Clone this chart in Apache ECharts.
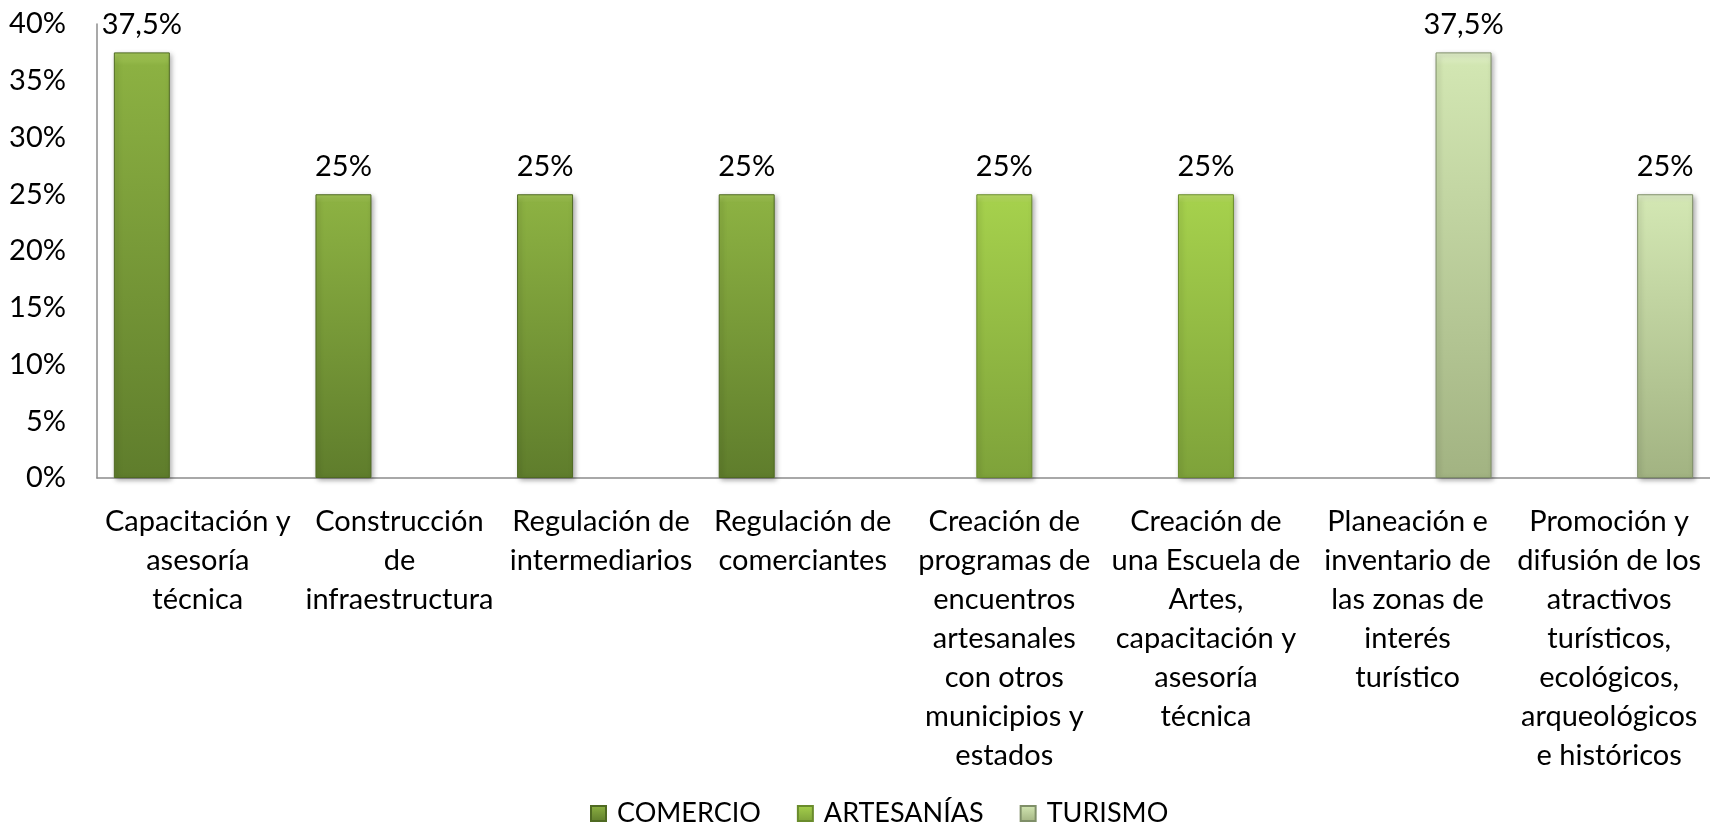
<!DOCTYPE html>
<html>
<head>
<meta charset="utf-8">
<script src="https://cdn.jsdelivr.net/npm/echarts@6/dist/echarts.min.js"></script>
<style>
    html, body { margin: 0; padding: 0; background: #fff; }
    #chart { width: 1710px; height: 830px; }
</style>
</head>
<body>
<div id="chart"></div>
<script>
let categories = [
    'Capacitación y\nasesoría\ntécnica',
    'Construcción\nde\ninfraestructura',
    'Regulación de\nintermediarios',
    'Regulación de\ncomerciantes',
    'Creación de\nprogramas de\nencuentros\nartesanales\ncon otros\nmunicipios y\nestados',
    'Creación de\nuna Escuela de\nArtes,\ncapacitación y\nasesoría\ntécnica',
    'Planeación e\ninventario de\nlas zonas de\ninterés\nturístico',
    'Promoción y\ndifusión de los\natractivos\nturísticos,\necológicos,\narqueológicos\ne históricos'
];
let seriesNames = ['COMERCIO', 'ARTESANÍAS', 'TURISMO'];
let comercio = [37.5, 25, 25, 25, null, null, null, null];
let artesanias = [null, null, null, null, 25, 25, null, null];
let turismo = [null, null, null, null, null, null, 37.5, 25];
let yTicks = { min: 0, max: 40, interval: 5 };

let FONT = 'Lato';

function barGradient(top, mid, bottom) {
    return new echarts.graphic.LinearGradient(0, 0, 0, 1, [
        { offset: 0, color: top },
        { offset: 0.03, color: mid },
        { offset: 1, color: bottom }
    ]);
}

let palette = [
    { fill: barGradient('#a6c95a', '#8cb142', '#5f7d2c'), border: '#4f6a22' },
    { fill: barGradient('#bfe06c', '#a5d04c', '#7ea23a'), border: '#6a8c2c' },
    { fill: barGradient('#e2f0cc', '#d2e6b2', '#a2b382'), border: '#7f8f68' }
];

function makeSeries(name, values, idx) {
    return {
        name: name,
        type: 'bar',
        data: values,
        barGap: '0%',
        barCategoryGap: '16.7%',
        itemStyle: {
            color: palette[idx].fill,
            borderColor: palette[idx].border,
            borderWidth: 1,
            shadowColor: 'rgba(0, 0, 0, 0.35)',
            shadowBlur: 5,
            shadowOffsetX: 2,
            shadowOffsetY: 2
        },
        label: {
            show: true,
            position: 'top',
            distance: 13,
            color: '#000',
            fontFamily: FONT,
            fontSize: 29,
            formatter: function (p) {
                return String(p.value).replace('.', ',') + '%';
            }
        }
    };
}

let chartDom = document.getElementById('chart');
let myChart = echarts.init(chartDom);
let option = {
    animation: false,
    backgroundColor: '#fff',
    grid: {
        left: 97,
        right: 0,
        top: 24,
        bottom: 352
    },
    legend: {
        top: 795,
        left: 585,
        icon: 'rect',
        itemWidth: 15,
        itemHeight: 15,
        itemGap: 36,
        textStyle: {
            color: '#000',
            fontFamily: FONT,
            fontSize: 27,
            padding: [0, 0, 0, 6]
        },
        data: seriesNames
    },
    xAxis: {
        type: 'category',
        data: categories,
        axisLine: { show: true, lineStyle: { color: '#8c8c8c', width: 1.5 } },
        axisTick: { show: false },
        axisLabel: {
            interval: 0,
            margin: 24,
            color: '#000',
            fontFamily: FONT,
            fontSize: 29,
            lineHeight: 39,
            align: 'center'
        }
    },
    yAxis: {
        type: 'value',
        min: yTicks.min,
        max: yTicks.max,
        interval: yTicks.interval,
        splitLine: { show: false },
        axisLine: { show: true, lineStyle: { color: '#8c8c8c', width: 1.5 } },
        axisTick: { show: false },
        axisLabel: {
            margin: 31,
            color: '#000',
            fontFamily: FONT,
            fontSize: 29,
            formatter: '{value}%'
        }
    },
    series: [
        makeSeries(seriesNames[0], comercio, 0),
        makeSeries(seriesNames[1], artesanias, 1),
        makeSeries(seriesNames[2], turismo, 2)
    ]
};
option && myChart.setOption(option);
</script>
</body>
</html>
